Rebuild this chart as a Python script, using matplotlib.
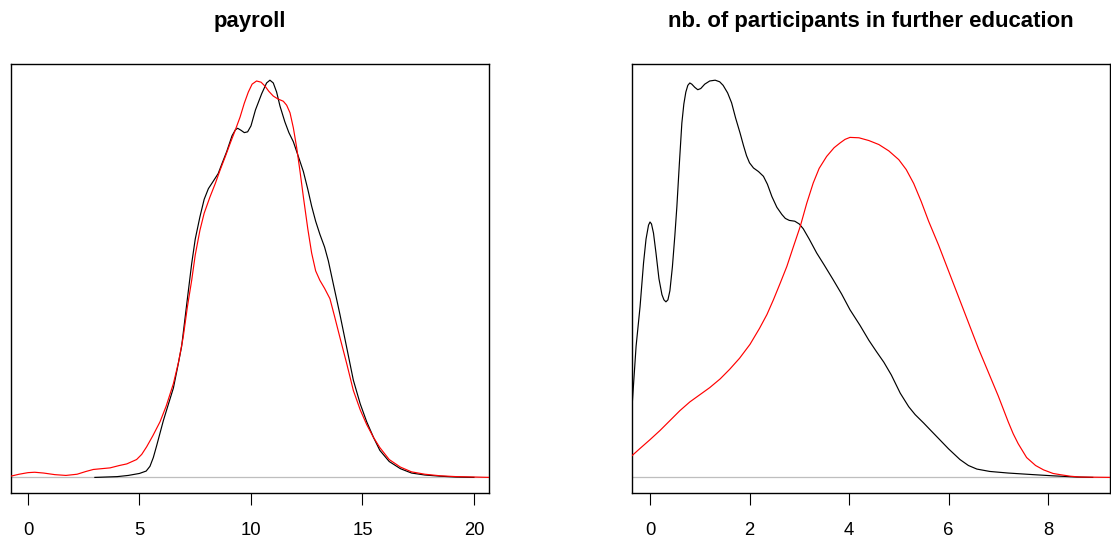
import numpy as np
from matplotlib import pyplot as plt

# payroll: estimated density, scaled so the black peak is 1
payroll_x_black = [3.0, 4.0, 4.5, 5.0, 5.3, 5.47, 5.62, 5.77, 6.07, 6.3, 6.52, 6.7, 6.89, 7.12,
                   7.34, 7.5, 7.71, 7.9, 8.09, 8.3, 8.53, 8.7, 8.91, 9.15, 9.3, 9.4, 9.55, 9.7,
                   9.85, 10.0, 10.2, 10.48, 10.7, 10.85, 11.0, 11.15, 11.3, 11.52, 11.7, 11.9,
                   12.1, 12.35, 12.55, 12.72, 12.9, 13.09, 13.3, 13.47, 13.7, 13.99, 14.3, 14.59,
                   14.9, 15.19, 15.5, 15.78, 16.2, 16.7, 17.2, 17.8, 18.5, 19.2, 20.0]
payroll_y_black = [0.0, 0.002, 0.005, 0.010, 0.016, 0.028, 0.050, 0.080, 0.143, 0.185, 0.225,
                   0.275, 0.330, 0.437, 0.538, 0.600, 0.656, 0.700, 0.727, 0.745, 0.765, 0.790,
                   0.820, 0.860, 0.875, 0.879, 0.874, 0.868, 0.870, 0.885, 0.925, 0.966, 0.993,
                   1.0, 0.993, 0.970, 0.935, 0.895, 0.868, 0.845, 0.812, 0.770, 0.725, 0.683,
                   0.645, 0.612, 0.580, 0.545, 0.485, 0.410, 0.325, 0.245, 0.185, 0.140, 0.100,
                   0.068, 0.040, 0.022, 0.011, 0.006, 0.003, 0.001, 0.0]

payroll_x_red = [-0.78, -0.4, 0.0, 0.3, 0.7, 1.2, 1.7, 2.2, 2.6, 2.93, 3.3, 3.68, 4.1, 4.43,
                 4.87, 5.1, 5.32, 5.6, 5.92, 6.2, 6.52, 6.75, 6.96, 7.15, 7.34, 7.5, 7.71, 7.9,
                 8.16, 8.4, 8.61, 8.85, 9.06, 9.3, 9.51, 9.7, 9.88, 10.05, 10.25, 10.45, 10.63,
                 10.8, 11.0, 11.2, 11.45, 11.6, 11.75, 11.9, 12.05, 12.2, 12.35, 12.55, 12.72,
                 12.9, 13.09, 13.3, 13.54, 13.75, 13.99, 14.3, 14.59, 14.9, 15.19, 15.5, 15.78,
                 16.2, 16.7, 17.2, 17.8, 18.5, 19.2, 20.0, 20.7]
payroll_y_red = [0.003, 0.008, 0.012, 0.013, 0.011, 0.007, 0.005, 0.008, 0.015, 0.020, 0.022,
                 0.024, 0.030, 0.034, 0.045, 0.058, 0.077, 0.105, 0.140, 0.180, 0.236, 0.290,
                 0.353, 0.430, 0.496, 0.560, 0.622, 0.665, 0.706, 0.740, 0.773, 0.808, 0.840,
                 0.875, 0.907, 0.942, 0.970, 0.990, 0.998, 0.995, 0.985, 0.972, 0.960, 0.953,
                 0.947, 0.937, 0.918, 0.880, 0.830, 0.770, 0.706, 0.625, 0.565, 0.520, 0.496,
                 0.476, 0.450, 0.405, 0.352, 0.285, 0.219, 0.170, 0.133, 0.100, 0.075, 0.045,
                 0.026, 0.014, 0.008, 0.004, 0.002, 0.001, 0.0]

# nb. of participants in further education
educ_x_black = [-0.36, -0.28, -0.2, -0.13, -0.08, -0.03, 0.0, 0.03, 0.07, 0.12, 0.18, 0.24,
                0.28, 0.32, 0.36, 0.4, 0.45, 0.5, 0.54, 0.59, 0.64, 0.68, 0.72, 0.76, 0.8, 0.84,
                0.9, 0.96, 1.02, 1.1, 1.2, 1.31, 1.4, 1.47, 1.56, 1.64, 1.72, 1.81, 1.88, 1.94,
                2.0, 2.08, 2.18, 2.28, 2.36, 2.45, 2.55, 2.65, 2.72, 2.8, 2.91, 3.0, 3.08, 3.2,
                3.35, 3.5, 3.68, 3.85, 4.02, 4.22, 4.4, 4.55, 4.7, 4.85, 5.03, 5.2, 5.33, 5.5,
                5.63, 5.8, 6.0, 6.23, 6.4, 6.57, 6.83, 7.2, 7.7, 8.1, 8.58, 8.9]
educ_y_black = [0.18, 0.33, 0.43, 0.54, 0.6, 0.635, 0.643, 0.638, 0.615, 0.565, 0.5, 0.46,
                0.447, 0.442, 0.447, 0.47, 0.53, 0.61, 0.682, 0.79, 0.892, 0.94, 0.97, 0.987,
                0.993, 0.99, 0.982, 0.976, 0.979, 0.99, 0.998, 1.0, 0.996, 0.987, 0.968, 0.943,
                0.905, 0.867, 0.835, 0.81, 0.792, 0.779, 0.77, 0.758, 0.738, 0.707, 0.68, 0.662,
                0.652, 0.647, 0.645, 0.638, 0.626, 0.6, 0.565, 0.535, 0.498, 0.462, 0.422,
                0.383, 0.345, 0.317, 0.29, 0.258, 0.212, 0.178, 0.158, 0.137, 0.12, 0.098,
                0.072, 0.045, 0.03, 0.021, 0.015, 0.011, 0.007, 0.004, 0.001, 0.0]

educ_x_red = [-0.36, -0.2, 0.0, 0.2, 0.4, 0.6, 0.8, 1.0, 1.2, 1.41, 1.6, 1.8, 2.01, 2.2, 2.35,
              2.48, 2.62, 2.75, 2.88, 3.02, 3.15, 3.28, 3.4, 3.55, 3.7, 3.82, 3.92, 4.02, 4.2,
              4.4, 4.6, 4.8, 5.0, 5.15, 5.3, 5.45, 5.6, 5.8, 6.0, 6.2, 6.4, 6.6, 6.8, 7.0, 7.2,
              7.3, 7.4, 7.57, 7.75, 7.91, 8.1, 8.24, 8.45, 8.64, 9.3]
educ_y_red = [0.055, 0.073, 0.095, 0.118, 0.143, 0.168, 0.19, 0.208, 0.226, 0.248, 0.272, 0.3,
              0.335, 0.375, 0.41, 0.447, 0.49, 0.531, 0.58, 0.632, 0.69, 0.741, 0.778, 0.808,
              0.83, 0.842, 0.851, 0.856, 0.855, 0.848, 0.838, 0.822, 0.8, 0.775, 0.74, 0.695,
              0.645, 0.585, 0.52, 0.455, 0.39, 0.325, 0.265, 0.205, 0.14, 0.11, 0.085, 0.05,
              0.03, 0.019, 0.01, 0.007, 0.003, 0.001, 0.0]

payroll_ticks = [0, 5, 10, 15, 20]
educ_ticks = [0, 2, 4, 6, 8]


def density_panel(fig, rect, title, xb, yb, xr, yr, xlim, ticks):
    ax = fig.add_axes(rect)
    ax.plot(xb, yb, color='black', lw=0.85, zorder=3)
    ax.axhline(0, color='#BEBEBE', lw=0.9, zorder=2)
    ax.plot(xr, yr, color='red', lw=0.85, zorder=4)
    ax.set_xlim(*xlim)
    ax.set_ylim(-0.04, 1.04)
    ax.set_xticks(ticks)
    ax.set_yticks([])
    ax.tick_params(axis='x', direction='out', length=8.4, width=0.8, pad=12.5,
                   labelsize=13.3, colors='black')
    for s in ax.spines.values():
        s.set_linewidth(1.0)
        s.set_color('black')
    x0, y0, w, h = rect
    fig.text(x0 + w / 2, 1 - 26.8 / 541, title, ha='center', va='baseline',
             fontsize=15.9, fontweight='bold')
    return ax


def main():
    plt.rcParams['font.family'] = ['Liberation Sans', 'DejaVu Sans']
    fig = plt.figure(figsize=(11.11, 5.41), dpi=100)
    density_panel(fig, [10.7 / 1111, 47.7 / 541, 478.2 / 1111, 429 / 541], 'payroll',
                  payroll_x_black, payroll_y_black, payroll_x_red, payroll_y_red,
                  (-0.776, 20.67), payroll_ticks)
    density_panel(fig, [632 / 1111, 47.7 / 541, 478 / 1111, 429 / 541],
                  'nb. of participants in further education',
                  educ_x_black, educ_y_black, educ_x_red, educ_y_red,
                  (-0.362, 9.246), educ_ticks)
    fig.savefig('out.png', dpi=100)


if __name__ == "__main__":
    main()
